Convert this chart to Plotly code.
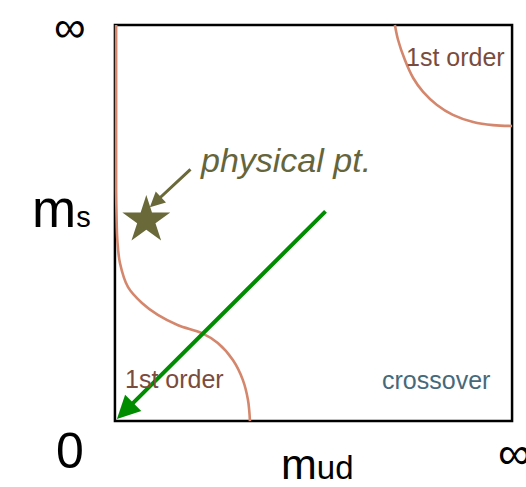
import plotly.graph_objects as go

# ---- data (unit square: m_ud on x, m_s on y, 0..1 = 0..infinity) ----
left_curve_x = [0.003, 0.003, 0.003, 0.004, 0.006, 0.0126, 0.033, 0.068, 0.108, 0.159,
                0.219, 0.259, 0.297, 0.322, 0.335, 0.340]
left_curve_y = [1.0, 0.75, 0.58, 0.52, 0.457, 0.399, 0.338, 0.298, 0.268, 0.242,
                0.222, 0.197, 0.154, 0.104, 0.053, 0.0]

right_curve_x = [0.705, 0.713, 0.730, 0.751, 0.776, 0.811, 0.851, 0.902, 0.952, 1.0]
right_curve_y = [1.0, 0.962, 0.912, 0.866, 0.831, 0.798, 0.773, 0.755, 0.747, 0.745]

star_x = [0.079]
star_y = [0.507]

green_arrow_tail = (0.534, 0.533)
green_arrow_head = (0.005, 0.005)
olive_arrow_tail = (0.194, 0.639)
olive_arrow_head = (0.088, 0.540)

region_labels = ["1st order", "1st order", "crossover"]
region_x = [0.857, 0.151, 0.808]
region_y = [0.919, 0.106, 0.104]
region_colors = ["#7a4c3d", "#7a4c3d", "#46697a"]

star_label = "physical pt."
star_label_pos = (0.210, 0.659)

FONT = "Liberation Sans, Arial, Helvetica, sans-serif"
CURVE = "#d4876c"
OLIVE = "#696939"
GREEN = "#008c00"

W, H = 526, 487
pad = 0.02
x0px, x1px = 115, 512
y0px, y1px = 421, 25
ux = (x1px - x0px)
uy = (y0px - y1px)
l = x0px - pad * ux
r = W - (x1px + pad * ux)
t = y1px - pad * uy
b = H - (y0px + pad * uy)
pw = W - l - r
ph = H - t - b


def px(xp):
    return (xp - l) / pw


def py(yp):
    return (H - b - yp) / ph


fig = go.Figure()

fig.add_shape(type="rect", x0=0, y0=0, x1=1, y1=1, xref="x", yref="y",
              line=dict(color="black", width=2.5), layer="below")

fig.add_trace(go.Scatter(x=left_curve_x, y=left_curve_y, mode="lines",
                         line=dict(color=CURVE, width=2.6, shape="spline", smoothing=1.0),
                         hoverinfo="skip", showlegend=False))
fig.add_trace(go.Scatter(x=right_curve_x, y=right_curve_y, mode="lines",
                         line=dict(color=CURVE, width=2.6, shape="spline", smoothing=1.0),
                         hoverinfo="skip", showlegend=False))
fig.add_trace(go.Scatter(x=star_x, y=star_y, mode="markers",
                         marker=dict(symbol="star", size=36, color=OLIVE, line=dict(width=0)),
                         hoverinfo="skip", showlegend=False))

annotations = []
# arrows
annotations.append(dict(x=green_arrow_head[0], y=green_arrow_head[1], ax=green_arrow_tail[0],
                        ay=green_arrow_tail[1], xref="x", yref="y", axref="x", ayref="y",
                        text="", showarrow=True, arrowhead=2, arrowsize=1.15, arrowwidth=4,
                        arrowcolor=GREEN, standoff=0))
annotations.append(dict(x=olive_arrow_head[0], y=olive_arrow_head[1], ax=olive_arrow_tail[0],
                        ay=olive_arrow_tail[1], xref="x", yref="y", axref="x", ayref="y",
                        text="", showarrow=True, arrowhead=2, arrowsize=1.0, arrowwidth=3,
                        arrowcolor=OLIVE, standoff=0))
# region labels
for txt, xx, yy, c in zip(region_labels, region_x, region_y, region_colors):
    annotations.append(dict(x=xx, y=yy, xref="x", yref="y", text=txt, showarrow=False,
                            xanchor="center", yanchor="middle",
                            font=dict(family=FONT, size=25, color=c)))
annotations.append(dict(x=star_label_pos[0], y=star_label_pos[1], xref="x", yref="y",
                        text="<i>" + star_label + "</i>", showarrow=False,
                        xanchor="left", yanchor="middle",
                        font=dict(family=FONT, size=34, color="#65653c")))
# axis labels outside the square
annotations.append(dict(x=px(70), y=py(0), xref="paper", yref="paper", text="∞",
                        showarrow=False, xanchor="center", yanchor="top",
                        font=dict(family=FONT, size=44, color="black")))
annotations.append(dict(x=px(70), y=py(451), xref="paper", yref="paper", text="0",
                        showarrow=False, xanchor="center", yanchor="middle",
                        font=dict(family=FONT, size=50, color="black")))
annotations.append(dict(x=px(514), y=py(453), xref="paper", yref="paper", text="∞",
                        showarrow=False, xanchor="center", yanchor="middle",
                        font=dict(family=FONT, size=46, color="black")))
annotations.append(dict(x=px(30), y=py(209), xref="paper", yref="paper",
                        text="m<span style='font-size:29px'>s</span>",
                        showarrow=False, xanchor="left", yanchor="middle",
                        font=dict(family=FONT, size=53, color="black")))
annotations.append(dict(x=px(279), y=py(464), xref="paper", yref="paper",
                        text="m<span style='font-size:33px'>ud</span>",
                        showarrow=False, xanchor="left", yanchor="middle",
                        font=dict(family=FONT, size=43, color="black")))

fig.update_layout(
    width=W, height=H,
    margin=dict(l=l, r=r, t=t, b=b, pad=0),
    paper_bgcolor="white", plot_bgcolor="white",
    xaxis=dict(range=[-pad, 1 + pad], visible=False, fixedrange=True),
    yaxis=dict(range=[-pad, 1 + pad], visible=False, fixedrange=True),
    annotations=annotations,
    showlegend=False,
)

fig.write_html("out.html", config={"displayModeBar": False})
